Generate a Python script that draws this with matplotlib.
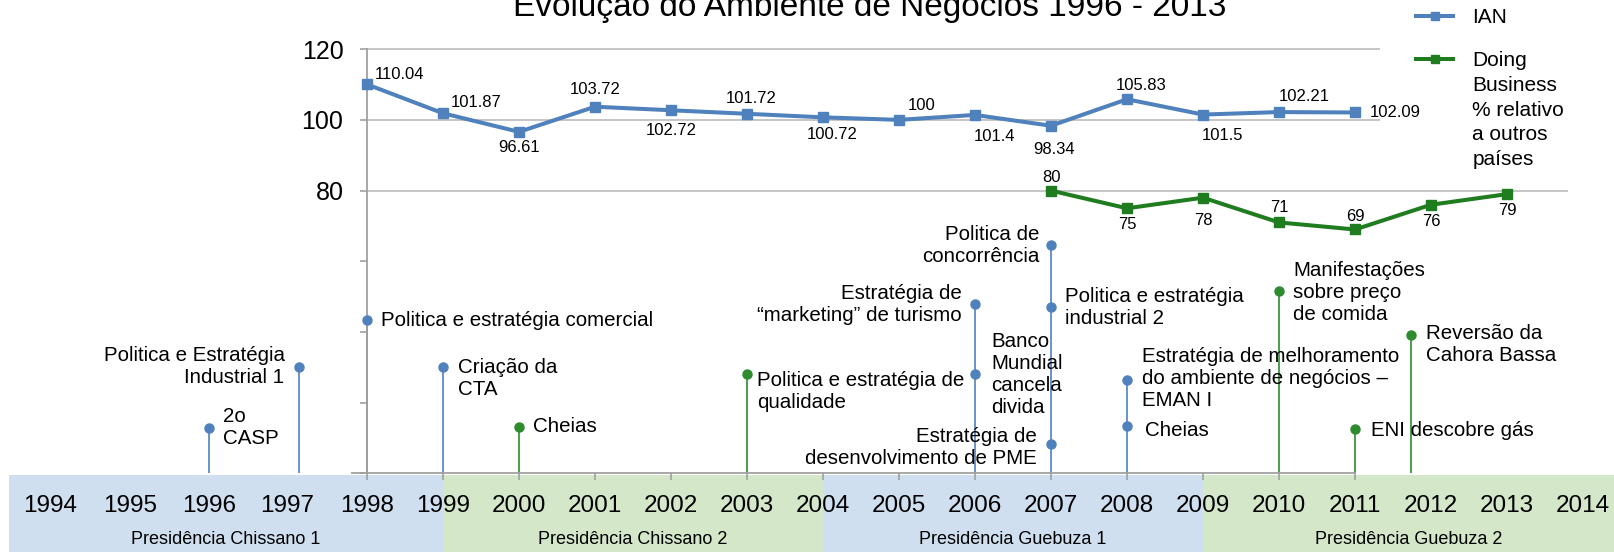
import numpy as np
import matplotlib
matplotlib.use("Agg")
import matplotlib.pyplot as plt
from matplotlib.lines import Line2D

plt.rcParams['font.family'] = ['Liberation Sans', 'DejaVu Sans']

# --- data ---
title = "Evolução do Ambiente de Negócios 1996 - 2013"

years_ian = list(range(1998, 2012))
ian = [110.04, 101.87, 96.61, 103.72, 102.72, 101.72, 100.72, 100, 101.4,
       98.34, 105.83, 101.5, 102.21, 102.09]

years_db = list(range(2007, 2014))
doing_business = [80, 75, 78, 71, 69, 76, 79]

year_labels = list(range(1994, 2015))

pres_names = ["Presidência Chissano 1", "Presidência Chissano 2",
              "Presidência Guebuza 1", "Presidência Guebuza 2"]
pres_start = [1993.29, 1999, 2004, 2009]
pres_end = [1999, 2004, 2009, 2014.42]

# events: position on timeline, height of marker, text, group
ev_x = [1995.92, 1997.1, 1998, 1999, 2000, 2003, 2006, 2006, 2007, 2007,
        2007, 2008, 2008, 2010, 2011, 2011.74]
ev_level = [12.9, 30.2, 43.4, 30.1, 13.2, 28.1, 47.9, 28.2, 64.6, 47.1,
            8.3, 26.4, 13.4, 51.6, 12.5, 39.1]
ev_text = ["2o\nCASP",
           "Politica e Estratégia\nIndustrial 1",
           "Politica e estratégia comercial",
           "Criação da\nCTA",
           "Cheias",
           "Politica e estratégia de\nqualidade",
           "Estratégia de\n“marketing” de turismo",
           "Banco\nMundial\ncancela\ndivida",
           "Politica de\nconcorrência",
           "Politica e estratégia\nindustrial 2",
           "Estratégia de\ndesenvolvimento de PME",
           "Estratégia de melhoramento\ndo ambiente de negócios –\nEMAN I",
           "Cheias",
           "Manifestações\nsobre preço\nde comida",
           "ENI descobre gás",
           "Reversão da\nCahora Bassa"]
ev_group = ["b", "b", "b", "b", "g", "g", "b", "b", "b", "b",
            "b", "b", "b", "g", "g", "g"]

# --- layout / style ---
blue = "#4f81bd"
green = "#1f7d1f"
stem_green = "#2e8b2e"
band_colors = ["#cfdff0", "#d4e7c9", "#cfdff0", "#d4e7c9"]
grid_c = "#c0c0c0"

# label offsets in pixels (dx, dy, ha)
ev_off = [(14, 0, "left"), (-14, 0, "right"), (14, 0, "left"), (15, -11, "left"),
          (14, 0, "left"), (10, -17, "left"), (-13, 0, "right"), (16, -1, "left"),
          (-12, 0, "right"), (14, -1, "left"), (-14, -3, "right"), (15, 2, "left"),
          (18, -4, "left"), (14, -1, "left"), (16, -1, "left"), (15, -9, "left")]
ian_off = [(8, 10, "left"), (8, 11, "left"), (0, -16, "center"), (0, 17, "center"),
           (0, -20, "center"), (4, 15, "center"), (9, -17, "center"), (23, 14, "center"),
           (19, -22, "center"), (3, -24, "center"), (14, 14, "center"), (19, -21, "center"),
           (25, 16, "center"), (15, 0, "left")]
db_off = [(0, 13), (0, -16), (0, -23), (0, 15), (0, 13), (0, -17), (0, -16)]
# the first year labels sit a little left of their year
year_shift_px = [-12.5, -9, -6, -3.5] + [0] * (len(year_labels) - 4)

fig = plt.figure(figsize=(16.15, 5.52), dpi=100)
ax = fig.add_axes([0, 0, 1, 1])
ax.set_xlim(1993.171, 2014.421)
ax.set_ylim(-22.2, 133.9)

# presidency bands
for s, e, c, name in zip(pres_start, pres_end, band_colors, pres_names):
    ax.axvspan(s, e, ymin=0, ymax=(-0.4 + 22.2) / (133.9 + 22.2), color=c, lw=0, zorder=0)
    ax.text((s + e) / 2, -18.6, name, ha="center", va="center", fontsize=13)
for y, sh in zip(year_labels, year_shift_px):
    ax.annotate(str(y), (y, -9.2), xytext=(sh, 0), textcoords="offset pixels",
                ha="center", va="center", fontsize=17.5)

# gridlines
ax.hlines([120, 100], 1998, 2011.33, color=grid_c, lw=1.3, zorder=1)
ax.hlines([80], 1998, 2013.8, color=grid_c, lw=1.3, zorder=1)

# event stems
ev_x_arr = np.array(ev_x)
ev_level_arr = np.array(ev_level)
ev_group_arr = np.array(ev_group)
for x in np.unique(ev_x_arr):
    sel = ev_x_arr == x
    col = blue if ev_group_arr[sel][0] == "b" else stem_green
    ax.vlines(x, 0, ev_level_arr[sel].max(), color=col, lw=1.2, zorder=2)
for x, lv, t, g, (dx, dy, ha) in zip(ev_x, ev_level, ev_text, ev_group, ev_off):
    col = blue if g == "b" else stem_green
    ax.plot(x, lv, "o", color=col, ms=6.5, zorder=3, clip_on=False)
    ax.annotate(t, (x, lv), xytext=(dx, dy), textcoords="offset pixels",
                ha=ha, va="center", fontsize=14.8, linespacing=1.2)

# series
ax.plot(years_ian, ian, color=blue, lw=2.9, marker="s", ms=7, zorder=4)
ax.plot(years_db, doing_business, color=green, lw=2.9, marker="s", ms=7, zorder=4)
for x, v, (dx, dy, ha) in zip(years_ian, ian, ian_off):
    ax.annotate(f"{v:g}", (x, v), xytext=(dx, dy), textcoords="offset pixels",
                ha=ha, va="center", fontsize=12)
for x, v, (dx, dy) in zip(years_db, doing_business, db_off):
    ax.annotate(str(v), (x, v), xytext=(dx, dy), textcoords="offset pixels",
                ha="center", va="center", fontsize=12)

# axes
for side in ["top", "right"]:
    ax.spines[side].set_visible(False)
ax.spines["left"].set_position(("data", 1998))
ax.spines["left"].set_bounds(0, 120)
ax.spines["bottom"].set_position(("data", 0))
ax.spines["bottom"].set_bounds(1997.8, 2011)
for side in ["left", "bottom"]:
    ax.spines[side].set_color("#a0a0a0")
    ax.spines[side].set_linewidth(1.3)
ax.set_yticks(range(0, 121, 20))
ax.set_yticklabels(["" if v < 80 else str(v) for v in range(0, 121, 20)])
ax.set_xticks(range(1998, 2012))
ax.set_xticklabels([])
ax.tick_params(axis="y", length=5, width=1.2, color="#a0a0a0", pad=12, labelsize=18)
ax.tick_params(axis="x", length=5, width=1.2, color="#a0a0a0")

fig.text(870 / 1615, 1 - 16 / 552, title, ha="center", va="baseline", fontsize=24)

handles = [Line2D([], [], color=blue, lw=2.9, marker="s", ms=6),
           Line2D([], [], color=green, lw=2.9, marker="s", ms=6)]
leg = ax.legend(handles, ["IAN", "Doing"],
                loc="upper left", bbox_to_anchor=(1416 / 1615, 1 - 8 / 552),
                frameon=False, fontsize=15, handlelength=1.8, handletextpad=0.9,
                borderpad=0, borderaxespad=0, labelspacing=1.15)
# rest of the Doing Business label continues under "Doing"
fig.canvas.draw()
bb = leg.get_texts()[1].get_window_extent()
fig.text(bb.x0 / fig.bbox.width, (bb.y0 - 6) / fig.bbox.height,
         "Business\n% relativo\na outros\npaíses", ha="left", va="top",
         fontsize=15, linespacing=1.38)

fig.savefig("out.png", dpi=100)
